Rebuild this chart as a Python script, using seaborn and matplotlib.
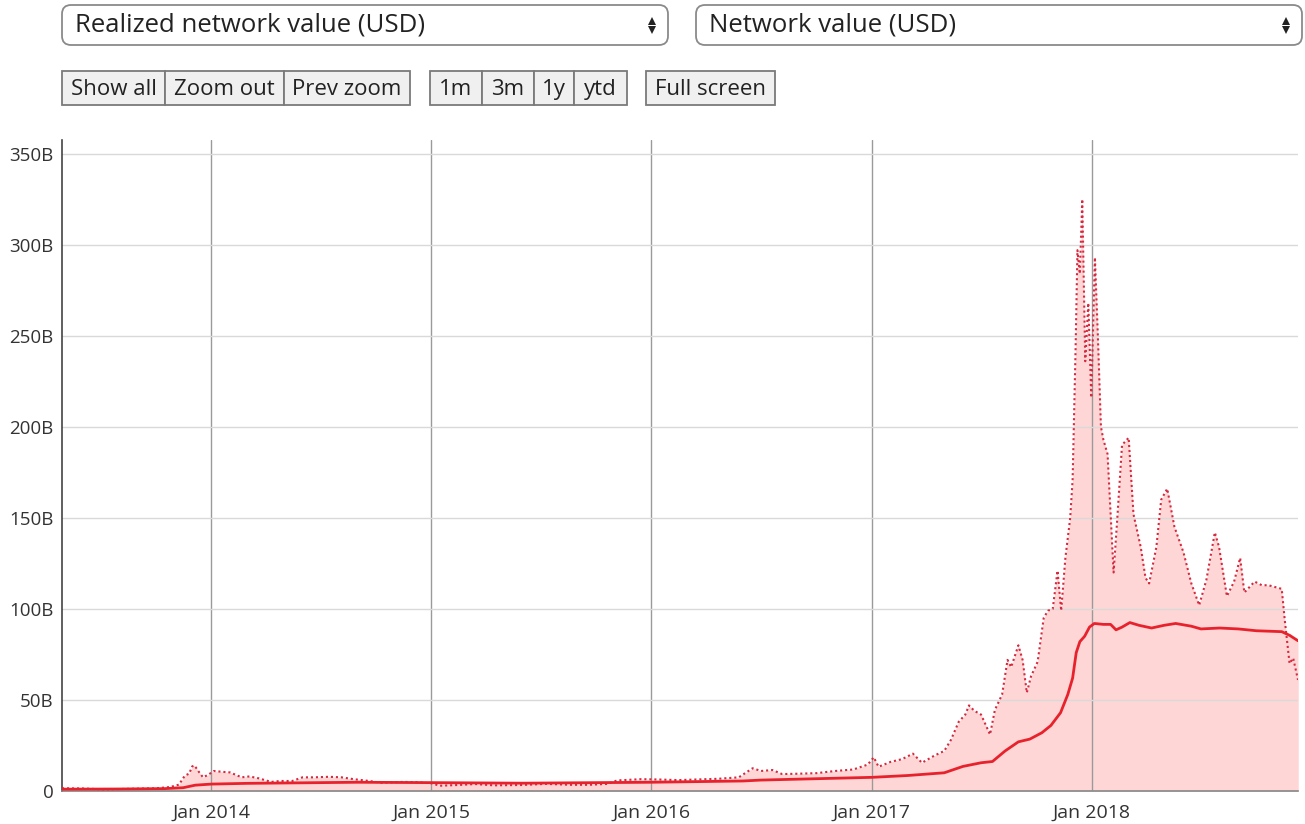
import numpy as np
import pandas as pd
import matplotlib
matplotlib.use("Agg")
import matplotlib.pyplot as plt
import matplotlib.dates as mdates
from matplotlib.ticker import FuncFormatter, MultipleLocator
from matplotlib.patches import FancyBboxPatch, Rectangle
import seaborn as sns

# ---------------- data (billions USD) ----------------
mv_dates = ["2013-04-28", "2013-06-01", "2013-07-05", "2013-08-15", "2013-10-01", "2013-10-25",
            "2013-11-08", "2013-11-18", "2013-11-25", "2013-11-30", "2013-12-04", "2013-12-10",
            "2013-12-18", "2013-12-27", "2014-01-05", "2014-01-20", "2014-02-01", "2014-02-20",
            "2014-03-05", "2014-03-20", "2014-04-10", "2014-04-25", "2014-05-15", "2014-06-01",
            "2014-06-20", "2014-07-15", "2014-08-05", "2014-08-25", "2014-09-20", "2014-10-10",
            "2014-11-15", "2014-12-10", "2015-01-01", "2015-01-15", "2015-02-15", "2015-03-15",
            "2015-04-15", "2015-06-01", "2015-07-10", "2015-08-20", "2015-09-20", "2015-10-20",
            "2015-11-05", "2015-12-15", "2016-01-15", "2016-02-15", "2016-03-15", "2016-04-20",
            "2016-05-25", "2016-06-17", "2016-07-01", "2016-07-20", "2016-08-05", "2016-09-01",
            "2016-10-01", "2016-11-01", "2016-12-01", "2016-12-25", "2017-01-04", "2017-01-12",
            "2017-02-01", "2017-02-20", "2017-03-10", "2017-03-25", "2017-04-15", "2017-05-01",
            "2017-05-12", "2017-05-25", "2017-06-05", "2017-06-11", "2017-06-20", "2017-07-01",
            "2017-07-16", "2017-07-24", "2017-08-05", "2017-08-14", "2017-08-20", "2017-09-01",
            "2017-09-08", "2017-09-15", "2017-09-22", "2017-10-03", "2017-10-13", "2017-10-20",
            "2017-10-28", "2017-11-05", "2017-11-11", "2017-11-18", "2017-11-26", "2017-11-30",
            "2017-12-05", "2017-12-08", "2017-12-12", "2017-12-16", "2017-12-21", "2017-12-26",
            "2017-12-31", "2018-01-06", "2018-01-11", "2018-01-16", "2018-01-20", "2018-01-27",
            "2018-02-01", "2018-02-06", "2018-02-12", "2018-02-20", "2018-03-03", "2018-03-11",
            "2018-03-23", "2018-03-31", "2018-04-06", "2018-04-18", "2018-04-26", "2018-05-06",
            "2018-05-18", "2018-06-02", "2018-06-15", "2018-06-28", "2018-07-10", "2018-07-24",
            "2018-07-31", "2018-08-13", "2018-08-25", "2018-09-04", "2018-09-11", "2018-09-28",
            "2018-10-10", "2018-10-21", "2018-11-12", "2018-11-17", "2018-11-25", "2018-12-01",
            "2018-12-09"]
mv_values = [1.5, 1.4, 0.9, 1.2, 1.5, 2.2,
             3.5, 8.5, 9.5, 13.5, 14.0, 11.0,
             7.5, 9.0, 11.0, 10.5, 10.2, 7.5,
             8.0, 7.0, 5.0, 5.5, 5.5, 7.5,
             7.5, 7.8, 7.5, 6.5, 5.5, 4.5,
             5.0, 4.8, 4.2, 2.9, 3.3, 3.8,
             3.1, 3.3, 3.9, 3.4, 3.4, 3.9,
             5.8, 6.5, 6.3, 6.0, 6.3, 6.7,
             7.5, 12.5, 11.0, 11.5, 9.3, 9.5,
             9.8, 11.0, 11.8, 14.5, 18.5, 13.3,
             16.0, 17.5, 20.5, 15.5, 19.5, 22.0,
             28.0, 38.0, 42.0, 47.0, 44.0, 42.0,
             31.0, 44.5, 53.0, 72.0, 68.0, 80.0,
             72.0, 54.0, 63.0, 71.0, 95.0, 99.0,
             100.0, 121.0, 99.0, 128.0, 150.0, 171.0,
             244.0, 297.0, 284.0, 325.0, 236.0, 268.0,
             216.0, 293.0, 249.0, 200.0, 193.0, 185.0,
             152.0, 120.0, 149.0, 190.0, 194.0, 152.0,
             134.0, 117.0, 114.0, 134.0, 160.0, 166.0,
             145.0, 131.0, 114.0, 102.0, 116.0, 142.0,
             134.0, 107.0, 115.0, 128.0, 109.0, 115.0,
             113.0, 113.0, 111.0, 94.0, 70.0, 73.0,
             61.0]

rv_dates = ["2013-04-28", "2013-08-01", "2013-10-15", "2013-11-15", "2013-12-05", "2014-01-01",
            "2014-03-01", "2014-06-01", "2014-09-01", "2015-01-01", "2015-06-01", "2016-01-01",
            "2016-06-01", "2016-07-01", "2017-01-01", "2017-03-01", "2017-05-01", "2017-06-01",
            "2017-07-01", "2017-07-20", "2017-08-10", "2017-09-01", "2017-09-20", "2017-10-10",
            "2017-10-25", "2017-11-10", "2017-11-22", "2017-11-30", "2017-12-06", "2017-12-12",
            "2017-12-20", "2017-12-28", "2018-01-05", "2018-01-20", "2018-02-01", "2018-02-10",
            "2018-02-20", "2018-03-05", "2018-03-20", "2018-04-10", "2018-05-01", "2018-05-20",
            "2018-06-15", "2018-07-01", "2018-08-01", "2018-09-01", "2018-10-01", "2018-11-12",
            "2018-11-25", "2018-12-09"]
rv_values = [1.0, 1.1, 1.3, 1.8, 3.2, 3.8,
             4.2, 4.5, 4.8, 4.6, 4.3, 4.8,
             5.5, 6.0, 7.5, 8.5, 10.0, 13.5,
             15.5, 16.2, 22.0, 27.0, 28.5, 32.0,
             36.0, 43.0, 53.0, 62.0, 76.0, 82.0,
             85.0, 90.0, 92.0, 91.5, 91.5, 88.5,
             90.0, 92.5, 91.0, 89.5, 91.0, 92.0,
             90.5, 89.0, 89.5, 89.0, 88.0, 87.5,
             85.5, 82.5]

y_ticks = [0, 50, 100, 150, 200, 250, 300, 350]
x_tick_dates = ["2014-01-01", "2015-01-01", "2016-01-01", "2017-01-01", "2018-01-01"]
x_tick_labels = ["Jan 2014", "Jan 2015", "Jan 2016", "Jan 2017", "Jan 2018"]

select_labels = ["Realized network value (USD)", "Network value (USD)"]
button_groups = [["Show all", "Zoom out", "Prev zoom"], ["1m", "3m", "1y", "ytd"], ["Full screen"]]

# ---------------- style ----------------
sns.set_style("white")
plt.rcParams["font.family"] = ["Open Sans", "DejaVu Sans"]

W, H = 1305, 824
fig = plt.figure(figsize=(W / 100, H / 100), dpi=100)

# UI overlay (pixel coordinates)
ui = fig.add_axes([0, 0, 1, 1], zorder=0)
ui.set_xlim(0, W)
ui.set_ylim(H, 0)
ui.axis("off")

# dropdowns
select_boxes = [(62, 668), (696, 1302)]
for (x0, x1), lab in zip(select_boxes, select_labels):
    ui.add_patch(FancyBboxPatch((x0, 5), x1 - x0, 40,
                                boxstyle="round,pad=0,rounding_size=9",
                                fc="white", ec="#8a8a8a", lw=1.3))
    ui.text(x0 + 13, 25, lab, fontsize=18.5, color="#222222", va="center", ha="left")
    ui.plot([x1 - 16], [20.5], marker="^", ms=6, color="#222222", mew=0)
    ui.plot([x1 - 16], [30], marker="v", ms=6, color="#222222", mew=0)

# buttons
button_spans = [[(62, 165), (165, 284), (284, 410)],
                [(430, 482), (482, 534), (534, 574), (574, 627)],
                [(646, 775)]]
for group, spans in zip(button_groups, button_spans):
    for lab, (x0, x1) in zip(group, spans):
        ui.add_patch(Rectangle((x0, 71), x1 - x0, 34, fc="#f0f0f0", ec="#7a7a7a", lw=1.3))
        ui.text((x0 + x1) / 2, 89, lab, fontsize=16, color="#222222",
                ha="center", va="center")

# ---------------- chart ----------------
ax = fig.add_axes([62 / W, (H - 791) / H, (1298 - 62) / W, (791 - 140) / H], zorder=1)
ax.set_facecolor("none")

mv = pd.DataFrame({"date": pd.to_datetime(mv_dates), "value": mv_values})
rv = pd.DataFrame({"date": pd.to_datetime(rv_dates), "value": rv_values})

fill_col = "#ffd6d6"
ax.fill_between(mv["date"], 0, mv["value"], color=fill_col, lw=0, zorder=1)
ax.fill_between(rv["date"], 0, rv["value"], color=fill_col, lw=0, zorder=1)

sns.lineplot(data=mv, x="date", y="value", ax=ax, color="#d6283e",
             lw=1.5, linestyle=(0, (1, 1.4)), zorder=3)
sns.lineplot(data=rv, x="date", y="value", ax=ax, color="#e8222c",
             lw=2.0, zorder=4)

ax.set_xlim(pd.Timestamp("2013-04-28"), pd.Timestamp("2018-12-09"))
ax.set_ylim(0, 357.5)
ax.set_xlabel("")
ax.set_ylabel("")

ax.set_yticks(y_ticks)
ax.yaxis.set_major_formatter(FuncFormatter(lambda v, p: "0" if v == 0 else f"{int(v)}B"))
ax.set_xticks(pd.to_datetime(x_tick_dates))
ax.set_xticklabels(x_tick_labels)

ax.set_axisbelow("line")
ax.grid(axis="y", color="#d9d9d9", lw=1.0)
ax.grid(axis="x", color="#9a9a9a", lw=1.0)

for s in ["top", "right"]:
    ax.spines[s].set_visible(False)
ax.spines["left"].set_color("#444444")
ax.spines["left"].set_linewidth(1.2)
ax.spines["bottom"].set_color("#888888")
ax.spines["bottom"].set_linewidth(1.2)

ax.tick_params(axis="y", length=0, labelsize=13.5, labelcolor="#333333", pad=6)
ax.tick_params(axis="x", length=0, labelsize=14, labelcolor="#333333", pad=9)

fig.savefig("out.png", dpi=100)
